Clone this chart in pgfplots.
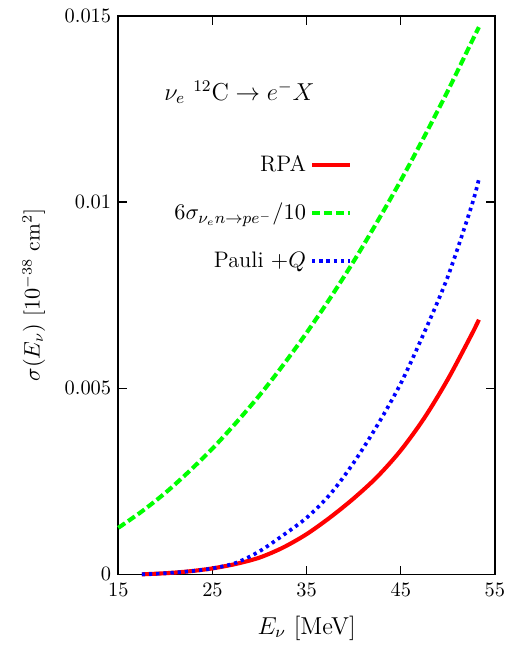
\documentclass[border=0pt]{standalone}
\usepackage{pgfplots}
\pgfplotsset{compat=1.18}
\definecolor{myred}{RGB}{255,0,0}
\definecolor{mygreen}{RGB}{0,255,0}
\definecolor{myblue}{RGB}{0,0,255}
\begin{document}
\begin{tikzpicture}
\begin{axis}[
  scale only axis,
  width=184bp, height=272.8bp,
  xmin=15, xmax=55, ymin=0, ymax=0.015,
  xtick={15,25,35,45,55},
  ytick={0,0.005,0.01,0.015},
  yticklabels={0,0.005,0.01,0.015},
  minor tick num=0,
  tick align=inside,
  clip=false,
  axis line style={line width=0.8pt},
  every tick/.style={line width=0.7pt, black},
  xticklabel style={yshift=-1bp},
  scaled y ticks=false,
  xlabel={$E_\nu$ [MeV]},
  ylabel={$\sigma(E_\nu)$ [$10^{-38}$ cm$^2$]},
  xlabel style={font=\large, at={(rel axis cs:0.5,0)}, anchor=center, yshift=-26.2bp},
  ylabel style={font=\fontsize{10.5}{12.5}\selectfont, at={(rel axis cs:0,0.5)}, anchor=center, yshift=41.3bp},
  legend plot pos=right,
  legend cell align=right,
  legend image code/.code={\draw[#1] (0cm,0cm) -- (0.65cm,0cm);},
  legend style={draw=none, fill=none, at={(axis cs:40.5,0.01148)}, anchor=north east, row sep=10pt, font=\fontsize{11}{13}\selectfont},
]
\addplot[myred, line width=2bp, smooth] coordinates {
(17.5,0) (20,0.00003) (22.5,0.00008) (25,0.00016) (27.5,0.00028) (30,0.00045)
(32.5,0.00072) (35,0.00108) (37.5,0.00153) (40,0.00204) (42.5,0.00262) (45,0.00333)
(47.5,0.00420) (50,0.00524) (52.5,0.00643) (53.3,0.00684)};
\addlegendentry{RPA}
\addplot[mygreen, line width=2bp, dash pattern=on 4bp off 1.8bp, smooth] coordinates {
(15,0.00125) (17.5,0.00169) (20,0.00219) (22.5,0.00276) (25,0.00338) (27.5,0.00407)
(30,0.00481) (32.5,0.00562) (35,0.00649) (37.5,0.00742) (40,0.00841) (42.5,0.00947)
(45,0.01058) (47.5,0.01176) (50,0.01299) (52.5,0.01429) (53.3,0.01470)};
\addlegendentry{$6\sigma_{\nu_e n\to pe^-}/10$}
\addplot[myblue, line width=1.8bp, dash pattern=on 1.6bp off 1.9bp, smooth] coordinates {
(17.5,0) (20,0.00003) (22.5,0.00008) (25,0.00016) (27.5,0.00031) (30,0.00062)
(32.5,0.00105) (35,0.00152) (37.5,0.00215) (40,0.00300) (42.5,0.00400) (45,0.00513)
(47.5,0.00650) (50,0.00800) (52.5,0.00988) (53.3,0.01062)};
\addlegendentry{Pauli $+Q$}
\node[anchor=west, font=\large, inner sep=0pt] at (axis cs:19.85,0.01295) {$\nu_e\ {}^{12}\mathrm{C}\to e^-X$};
\path (rel axis cs:0,0) ++(-57.8bp,-33.5bp) coordinate (bbA);
\path (rel axis cs:1,1) ++(6.8bp,7.8bp) coordinate (bbB);
\path (bbA) rectangle (bbB);
\end{axis}
\end{tikzpicture}
\end{document}
